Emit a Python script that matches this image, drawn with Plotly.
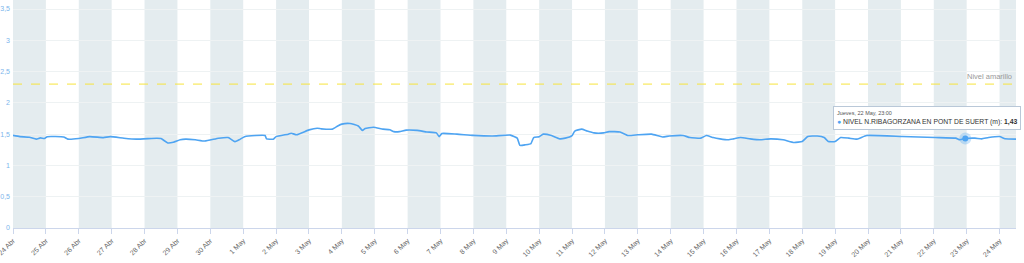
import plotly.graph_objects as go
import pandas as pd

# ---------------- data ----------------
times = [
    "2025-04-24 00:00", "2025-04-24 05:00", "2025-04-24 12:00", "2025-04-24 17:00", "2025-04-24 20:00",
    "2025-04-24 23:00", "2025-04-25 01:00", "2025-04-25 13:00", "2025-04-25 16:00", "2025-04-26 00:00",
    "2025-04-26 08:00", "2025-04-26 18:00", "2025-04-26 23:00", "2025-04-27 09:00", "2025-04-27 18:00",
    "2025-04-28 09:00", "2025-04-28 12:00", "2025-04-28 17:00", "2025-04-28 21:00", "2025-04-29 02:00",
    "2025-04-29 06:00", "2025-04-29 13:00", "2025-04-29 20:00", "2025-04-30 06:00", "2025-04-30 13:00",
    "2025-04-30 18:00", "2025-04-30 21:00", "2025-05-01 01:00", "2025-05-01 09:00", "2025-05-01 16:00",
    "2025-05-01 17:00", "2025-05-01 22:00", "2025-05-02 00:00", "2025-05-02 09:00", "2025-05-02 11:00",
    "2025-05-02 15:00", "2025-05-03 00:00", "2025-05-03 06:00", "2025-05-03 09:00", "2025-05-03 17:00",
    "2025-05-03 21:00", "2025-05-04 00:00", "2025-05-04 06:00", "2025-05-04 12:00", "2025-05-04 15:00",
    "2025-05-04 17:00", "2025-05-04 23:00", "2025-05-05 06:00", "2025-05-05 11:00", "2025-05-05 14:00",
    "2025-05-05 18:00", "2025-05-05 23:00", "2025-05-06 07:00", "2025-05-06 14:00", "2025-05-06 21:00",
    "2025-05-06 23:00", "2025-05-07 01:00", "2025-05-07 12:00", "2025-05-08 00:00", "2025-05-08 14:00",
    "2025-05-09 03:00", "2025-05-09 08:00", "2025-05-09 10:00", "2025-05-09 14:00", "2025-05-09 18:00",
    "2025-05-09 20:00", "2025-05-10 00:00", "2025-05-10 03:00", "2025-05-10 09:00", "2025-05-10 15:00",
    "2025-05-10 19:00", "2025-05-11 00:00", "2025-05-11 02:00", "2025-05-11 07:00", "2025-05-11 11:00",
    "2025-05-11 16:00", "2025-05-11 23:00", "2025-05-12 03:00", "2025-05-12 11:00", "2025-05-12 17:00",
    "2025-05-13 00:00", "2025-05-13 10:00", "2025-05-13 18:00", "2025-05-13 23:00", "2025-05-14 09:00",
    "2025-05-14 14:00", "2025-05-14 22:00", "2025-05-15 02:00", "2025-05-15 07:00", "2025-05-15 12:00",
    "2025-05-15 18:00", "2025-05-15 22:00", "2025-05-16 03:00", "2025-05-16 10:00", "2025-05-16 17:00",
    "2025-05-17 01:00", "2025-05-17 10:00", "2025-05-17 18:00", "2025-05-18 00:00", "2025-05-18 04:00",
    "2025-05-18 11:00", "2025-05-18 16:00", "2025-05-18 19:00", "2025-05-19 00:00", "2025-05-19 04:00",
    "2025-05-19 10:00", "2025-05-19 16:00", "2025-05-19 23:00", "2025-05-21 01:00", "2025-05-22 01:00",
    "2025-05-22 16:00", "2025-05-22 19:00", "2025-05-22 23:00", "2025-05-23 06:00", "2025-05-23 11:00",
    "2025-05-23 16:00", "2025-05-24 00:00", "2025-05-24 04:00", "2025-05-24 12:00",
]
levels = [
    1.48, 1.46, 1.45, 1.42, 1.44,
    1.43, 1.46, 1.455, 1.42, 1.43,
    1.46, 1.445, 1.46, 1.435, 1.42,
    1.435, 1.43, 1.36, 1.37, 1.41,
    1.42, 1.41, 1.39, 1.435, 1.446,
    1.38, 1.41, 1.46, 1.478, 1.478,
    1.425, 1.42, 1.46, 1.50, 1.515,
    1.49, 1.568, 1.595, 1.585, 1.58,
    1.63, 1.66, 1.67, 1.63, 1.56,
    1.59, 1.61, 1.58, 1.57, 1.54,
    1.54, 1.565, 1.56, 1.535, 1.52,
    1.46, 1.51, 1.50, 1.48, 1.47,
    1.485, 1.436, 1.32, 1.33, 1.35,
    1.446, 1.46, 1.50, 1.478, 1.425,
    1.436, 1.478, 1.55, 1.58, 1.55,
    1.52, 1.52, 1.54, 1.535, 1.478,
    1.49, 1.50, 1.455, 1.47, 1.478,
    1.446, 1.436, 1.478, 1.446, 1.425,
    1.41, 1.425, 1.446, 1.425, 1.41,
    1.425, 1.41, 1.367, 1.383, 1.462,
    1.47, 1.446, 1.383, 1.383, 1.446,
    1.436, 1.42, 1.478, 1.462, 1.446,
    1.436, 1.41, 1.43, 1.436, 1.425,
    1.446, 1.462, 1.425, 1.42,
]

series_name = "NIVEL N.RIBAGORZANA EN PONT DE SUERT (m)"
yellow_level = 2.3
yellow_label = "Nivel amarillo"

tick_dates = [
    "2025-04-24", "2025-04-25", "2025-04-26", "2025-04-27", "2025-04-28", "2025-04-29", "2025-04-30",
    "2025-05-01", "2025-05-02", "2025-05-03", "2025-05-04", "2025-05-05", "2025-05-06", "2025-05-07",
    "2025-05-08", "2025-05-09", "2025-05-10", "2025-05-11", "2025-05-12", "2025-05-13", "2025-05-14",
    "2025-05-15", "2025-05-16", "2025-05-17", "2025-05-18", "2025-05-19", "2025-05-20", "2025-05-21",
    "2025-05-22", "2025-05-23", "2025-05-24",
]
tick_labels = [
    "24 Abr", "25 Abr", "26 Abr", "27 Abr", "28 Abr", "29 Abr", "30 Abr",
    "1 May", "2 May", "3 May", "4 May", "5 May", "6 May", "7 May",
    "8 May", "9 May", "10 May", "11 May", "12 May", "13 May", "14 May",
    "15 May", "16 May", "17 May", "18 May", "19 May", "20 May", "21 May",
    "22 May", "23 May", "24 May",
]
y_ticks = [0, 0.5, 1, 1.5, 2, 2.5, 3, 3.5]
y_tick_labels = ["0", "0,5", "1", "1,5", "2", "2,5", "3", "3,5"]

hover_time = "2025-05-22 23:00"
hover_value = 1.43
hover_header = "Jueves, 22 May, 23:00"
hover_value_text = "1,43"

# ---------------- styles ----------------
LINE = "#4ea4f2"
BAND = "#e4ecef"
FONT = "Liberation Sans, Arial, sans-serif"

x_start = pd.Timestamp(times[0])
x_end = pd.Timestamp(times[-1])

fig = go.Figure()

fig.add_trace(go.Scatter(
    x=times, y=levels, mode="lines", name=series_name,
    line=dict(color=LINE, width=1.6, shape="spline", smoothing=0.4),
    hoverinfo="skip",
))

# highlighted point (halo + marker)
fig.add_trace(go.Scatter(
    x=[hover_time], y=[hover_value], mode="markers",
    marker=dict(size=12, color="rgba(78,164,242,0.3)"),
    hoverinfo="skip",
))
fig.add_trace(go.Scatter(
    x=[hover_time], y=[hover_value], mode="markers",
    marker=dict(size=6, color=LINE),
    hoverinfo="skip",
))

shapes = []
for i, d in enumerate(tick_dates):
    if i % 2 == 0:
        x0 = pd.Timestamp(d)
        x1 = min(x0 + pd.Timedelta(days=1), x_end)
        shapes.append(dict(type="rect", xref="x", yref="paper", x0=x0, x1=x1, y0=0, y1=1,
                           fillcolor=BAND, line=dict(width=0), layer="below"))
shapes.append(dict(type="line", xref="paper", yref="y", x0=0, x1=1, y0=yellow_level, y1=yellow_level,
                   line=dict(color="#f7e43c", width=1, dash="dash"), layer="above"))

annotations = [
    dict(xref="paper", yref="y", x=0.998, y=yellow_level, xanchor="right", yanchor="bottom",
         yshift=1, text=yellow_label, showarrow=False,
         font=dict(family=FONT, size=7.5, color="#999999")),
    dict(xref="paper", yref="paper", x=0.8175, y=0.535, xanchor="left", yanchor="top",
         text=(f"<span style='font-size:5.5px;color:#555'>{hover_header}</span><br>"
               f"<span style='color:{LINE}'>●</span> {series_name}: <b>{hover_value_text}</b>"),
         showarrow=False, align="left", bgcolor="rgba(255,255,255,0.96)",
         bordercolor="#b9c8d8", borderwidth=1, borderpad=3,
         font=dict(family=FONT, size=6.8, color="#333333")),
]

fig.update_layout(
    width=1024, height=263,
    margin=dict(l=13, r=8, t=0, b=35, autoexpand=False),
    paper_bgcolor="white", plot_bgcolor="white",
    showlegend=False,
    shapes=shapes, annotations=annotations,
    font=dict(family=FONT),
    xaxis=dict(
        type="date", range=[x_start, x_end], automargin=False,
        tickmode="array", tickvals=tick_dates, ticktext=tick_labels,
        tickangle=-45, tickfont=dict(size=7, color="#666666", family=FONT),
        ticklabeloverflow="allow",
        showgrid=False, showline=True, linecolor="#ccd6eb", linewidth=1,
        ticks="outside", ticklen=5, tickcolor="#ccd6eb", zeroline=False,
    ),
    yaxis=dict(
        range=[0, 3.644], tickmode="array", tickvals=y_ticks, ticktext=y_tick_labels,
        automargin=False,
        tickfont=dict(size=7, color="#7cb5ec", family=FONT),
        showgrid=True, gridcolor="#eef2f3", gridwidth=1, zeroline=False,
        ticks="", ticklabelstandoff=2,
    ),
)

fig.write_html("out.html")
